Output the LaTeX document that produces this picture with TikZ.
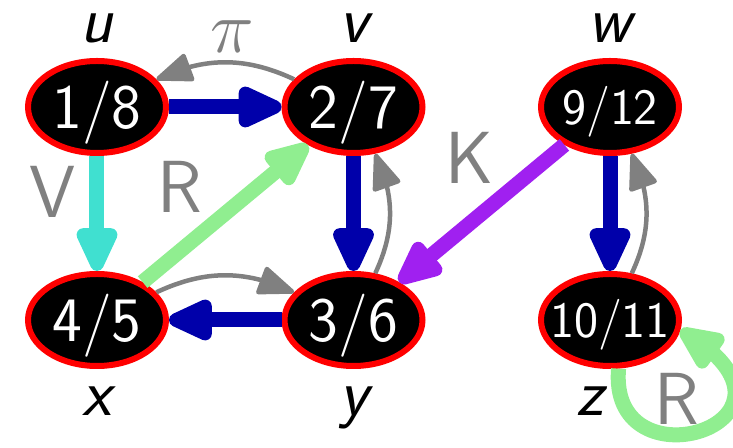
\RequirePackage{fix-cm}
\documentclass[tikz,border=0pt]{standalone}
\usetikzlibrary{shapes}
\usetikzlibrary{arrows.meta}
\usetikzlibrary{bending}
\usetikzlibrary{positioning}
\definecolor{treeblue}{RGB}{0,0,170}
\definecolor{fwdcyan}{HTML}{40E0D0}
\definecolor{backgreen}{HTML}{90EE90}
\definecolor{crosspurple}{HTML}{A020F0}
\tikzset{
	node_v/.style = {
		ellipse,
		draw=red,
		fill=black,
		text=white,
		line width=0.12cm,
		minimum width=2.76cm,
		minimum height=1.84cm,
		inner xsep=-0.6cm,
		inner ysep=0pt,
		text height=28pt,
		text depth=3pt,
		font=\sffamily\fontsize{36}{40}\selectfont
	},
	node_vs/.style = {
		node_v,
		text height=23pt,
		font=\sffamily\fontsize{29}{32}\selectfont
	},
	node_name/.style = {
		inner sep=0pt,
		text height=16pt,
		text depth=0pt,
		font=\sffamily\slshape\fontsize{38}{40}\selectfont
	},
	edge_label/.style = {
		gray,
		inner sep=2pt,
		font=\sffamily\fontsize{42}{44}\selectfont
	},
	edge_thick/.style = {
		line width=0.3cm,
		-{Triangle[length=1.08cm,width=0.88cm,round]}
	},
	edge_tree/.style = {edge_thick, treeblue},
	edge_fwd/.style = {edge_thick, fwdcyan},
	edge_back/.style = {edge_thick, backgreen},
	edge_cross/.style = {edge_thick, crosspurple},
	edge_pi/.style = {
		gray,
		line width=0.09cm,
		-{Triangle[length=0.8cm,width=0.6cm,round]}
	},
}

\begin{document}
\begin{tikzpicture}[on grid, node distance=4.26cm and 5.13cm]
\useasboundingbox (-1.94,2.14) rectangle (12.72,-6.82);
% vertices
\node [node_v] (u) {1/8};
\node [node_v] (v) [right=of u] {2/7};
\node [node_vs] (w) [right=of v] {9/12};
\node [node_v] (x) [below=of u] {4/5};
\node [node_v] (y) [below=of v] {3/6};
\node [node_vs] (z) [below=of w] {10/11};
% names
\node [node_name] (nu) [above=1.57cm of u] {u};
\node [node_name] (nv) [above=1.57cm of v] {v};
\node [node_name] (nw) [above=1.57cm of w] {w};
\node [node_name] (nx) [below=1.63cm of x] {x};
\node [node_name] (ny) [below=1.63cm of y] {y};
\node [node_name] (nz) [below left=1.63cm and 0.4cm of z] {z};
% edges
\draw [edge_tree] (u) -- (v);
\draw [edge_tree] (v) -- (y);
\draw [edge_tree] (y) -- (x);
\draw [edge_tree] (w) -- (z);
\draw [edge_fwd] (u) -- node [edge_label, pos=0.31, left=6pt] (lV) {V} (x);
\draw [edge_back] (x) -- node [edge_label, pos=0.43, above left] (lR) {R} (v);
\draw [edge_cross] (w) -- node [edge_label, pos=0.36, above left] (lK) {K} (y);
\draw [edge_back] (z.-80) to [out=-95, in=-30, out distance=2.5cm, in distance=3.6cm]
	node [edge_label, pos=0.5, above left=-5pt] (lRz) {R} (z.-8);
\draw [edge_pi] (v) to [bend right=25] node [edge_label, above=2pt, xshift=4pt] (lpi) {$\pi$} (u);
\draw [edge_pi] (x) to [bend left=25] (y);
\draw [edge_pi] (y) to [bend right=25] (v);
\draw [edge_pi] (z) to [bend right=25] (w);
\end{tikzpicture}
\end{document}
